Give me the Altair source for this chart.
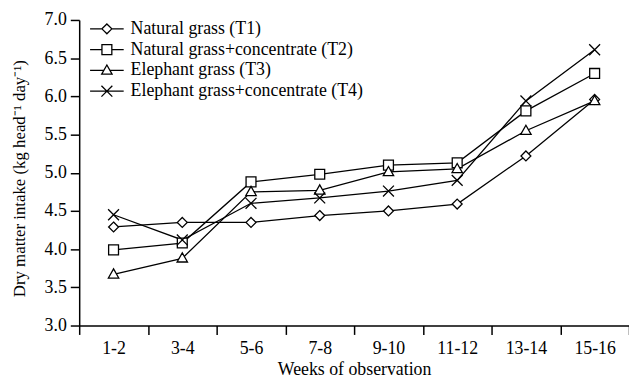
import altair as alt
import pandas as pd

weeks = ["1-2", "3-4", "5-6", "7-8", "9-10", "11-12", "13-14", "15-16"]
series_names = [
    "Natural grass (T1)",
    "Natural grass+concentrate (T2)",
    "Elephant grass (T3)",
    "Elephant grass+concentrate (T4)",
]
t1 = [4.29, 4.35, 4.35, 4.44, 4.50, 4.59, 5.22, 5.96]
t2 = [3.99, 4.08, 4.88, 4.98, 5.10, 5.13, 5.81, 6.30]
t3 = [3.67, 3.88, 4.75, 4.77, 5.01, 5.05, 5.55, 5.94]
t4 = [4.45, 4.12, 4.60, 4.67, 4.76, 4.90, 5.94, 6.61]

rows = []
for name, vals in zip(series_names, [t1, t2, t3, t4]):
    for w, v in zip(weeks, vals):
        rows.append({"week": w, "series": name, "value": v})
df = pd.DataFrame(rows)

FONT = "Liberation Serif"
FS = 18

marker_paths = [
    "M0,-1L1,0L0,1L-1,0Z",
    "M-1,-1H1V1H-1Z",
    "M0,-1.1L1.05,0.75L-1.05,0.75Z",
    "M-1.1,-1.1L1.1,1.1M-1.1,1.1L1.1,-1.1",
]
legend_paths = [
    "M-3.4,0H-1M1,0H3.4M0,-1L1,0L0,1L-1,0Z",
    "M-3.4,0H-1M1,0H3.4M-1,-1H1V1H-1Z",
    "M-3.4,0H-0.6M0.6,0H3.4M0,-1.1L1.05,0.75L-1.05,0.75Z",
    "M-3.4,0H3.4M-1.1,-1.1L1.1,1.1M-1.1,1.1L1.1,-1.1",
]

x_enc = alt.X(
    "week:N",
    sort=weeks,
    scale=alt.Scale(type="band", domain=weeks, paddingInner=0, paddingOuter=0),
    axis=alt.Axis(
        title="Weeks of observation",
        tickBand="extent",
        labelAngle=0,
        tickSize=9,
        labelPadding=5,
        titlePadding=4,
        domainColor="black",
        tickColor="black",
        labelColor="black",
        titleColor="black",
        labelFont=FONT,
        titleFont=FONT,
        labelFontSize=FS,
        titleFontSize=FS,
        titleFontWeight="normal",
        domainWidth=1.5,
        tickWidth=1.5,
        grid=False,
    ),
)
y_enc = alt.Y(
    "value:Q",
    scale=alt.Scale(domain=[3.0, 7.0], nice=False, zero=False),
    axis=alt.Axis(
        title="Dry matter intake (kg head\u207b\u00b9 day\u207b\u00b9)",
        values=[3.0, 3.5, 4.0, 4.5, 5.0, 5.5, 6.0, 6.5, 7.0],
        format=".1f",
        tickSize=9,
        labelPadding=4,
        titlePadding=16,
        titleY=160,
        domainColor="black",
        tickColor="black",
        labelColor="black",
        titleColor="black",
        labelFont=FONT,
        titleFont=FONT,
        labelFontSize=FS,
        titleFontSize=17,
        titleFontWeight="normal",
        domainWidth=1.5,
        tickWidth=1.5,
        grid=False,
    ),
)

lines = alt.Chart(df).mark_line(color="black", strokeWidth=1.3).encode(
    x=x_enc, y=y_enc, detail="series:N"
)

points = alt.Chart(df).mark_point(
    filled=True, fill="white", stroke="black", strokeWidth=1.3, size=100, opacity=1
).encode(
    x=x_enc,
    y=y_enc,
    shape=alt.Shape(
        "series:N",
        scale=alt.Scale(domain=series_names, range=marker_paths),
        legend=None,
    ),
)

legend_layer = alt.Chart(df).transform_filter("false").mark_point(
    filled=False, color="black", strokeWidth=1.3, size=100, opacity=1
).encode(
    x=x_enc,
    y=y_enc,
    shape=alt.Shape(
        "series:N",
        scale=alt.Scale(domain=series_names, range=legend_paths),
        legend=alt.Legend(
            title=None,
            orient="none",
            legendX=19,
            legendY=0,
            padding=0,
            symbolOffset=0,
            labelOffset=15,
            rowPadding=3,
            symbolOpacity=1,
            symbolStrokeColor="black",
            symbolStrokeWidth=1.3,
            symbolSize=100,
            labelFont=FONT,
            labelFontSize=FS,
            labelColor="black",
            labelLimit=500,
        ),
    ),
)

chart = (
    alt.layer(lines, points, legend_layer)
    .resolve_scale(shape="independent")
    .properties(
        width=556,
        height=309,
        autosize=alt.AutoSizeParams(type="none"),
        padding={"left": 72, "top": 10, "right": 0, "bottom": 54},
        background="white",
    )
    .configure_view(stroke=None)
)

chart.save("out.html", embed_options={"renderer": "svg", "actions": False})
